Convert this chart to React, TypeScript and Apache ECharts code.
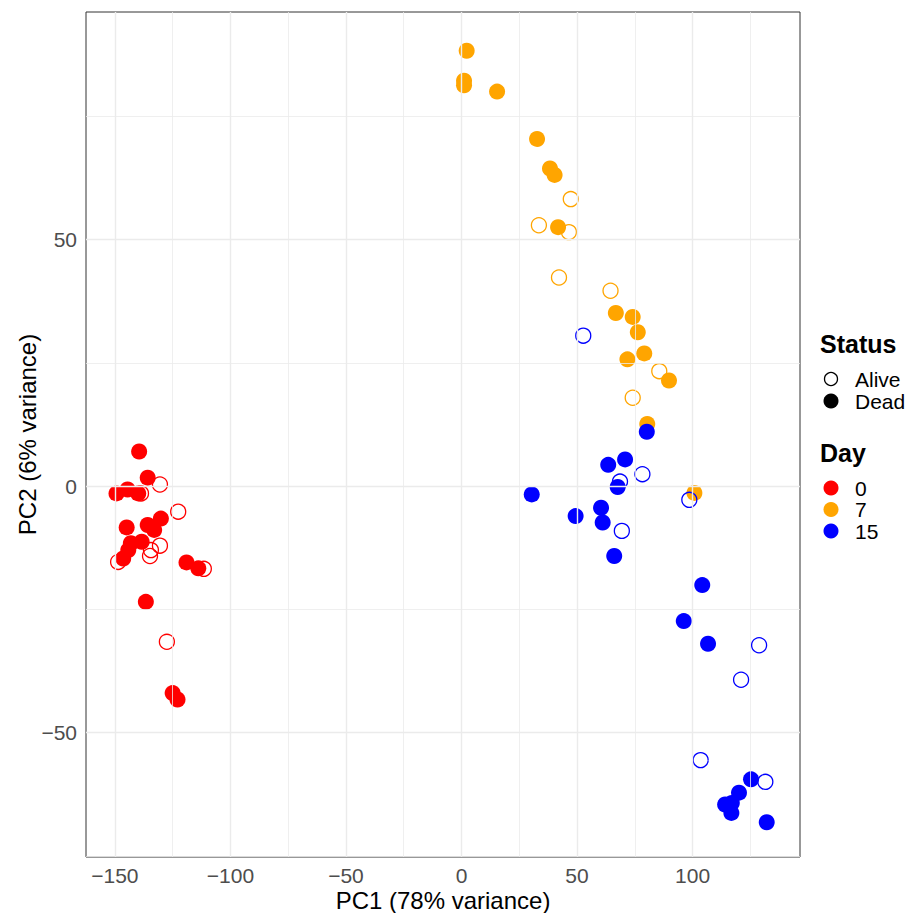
import React, { useEffect, useRef } from "react";
import * as echarts from "echarts";

// ---- data (PC1, PC2) ----
const day0Dead: number[][] = [
  [-139.5, 7.0], [-135.8, 1.7], [-149.3, -1.5], [-144.5, -0.7], [-139.9, -1.5],
  [-130.1, -6.6], [-144.9, -8.4], [-135.8, -7.9], [-133.0, -8.9], [-138.4, -11.3],
  [-143.1, -11.6], [-144.2, -13.0], [-146.4, -14.7], [-119.0, -15.5], [-113.9, -16.7],
  [-136.6, -23.5], [-125.0, -42.0], [-122.9, -43.3],
];
const day0Alive: number[][] = [
  [-130.5, 0.3], [-138.7, -1.5], [-122.6, -5.2], [-148.6, -15.4], [-130.5, -12.1],
  [-134.4, -13.0], [-134.8, -14.2], [-111.5, -16.8], [-127.5, -31.6],
];
const day7Dead: number[][] = [
  [2.25, 88.3], [1.1, 82.2], [1.1, 81.3], [15.4, 80.0], [32.7, 70.4], [38.3, 64.4],
  [40.3, 63.1], [41.8, 52.5], [66.8, 35.1], [74.1, 34.3], [76.3, 31.2], [79.1, 26.9],
  [71.8, 25.7], [89.8, 21.4], [80.4, 12.6], [100.8, -1.4],
];
const day7Alive: number[][] = [
  [47.3, 58.2], [33.5, 52.9], [46.5, 51.5], [42.2, 42.3], [64.5, 39.6], [85.6, 23.3],
  [74.1, 17.9],
];
const day15Dead: number[][] = [
  [80.2, 11.0], [63.5, 4.3], [70.8, 5.4], [67.6, -0.2], [30.4, -1.7], [49.4, -6.1],
  [60.4, -4.4], [61.1, -7.4], [66.1, -14.2], [104.2, -20.1], [96.2, -27.4],
  [106.7, -32.0], [125.3, -59.5], [120.1, -62.2], [114.1, -64.6], [117.0, -64.3],
  [116.8, -66.3], [132.1, -68.2],
];
const day15Alive: number[][] = [
  [52.7, 30.5], [78.3, 2.4], [68.6, 0.9], [69.4, -9.1], [98.6, -2.8], [128.8, -32.3],
  [121.0, -39.3], [103.5, -55.6], [131.5, -60.0],
];

const xTicks = [-150, -100, -50, 0, 50, 100];
const xMinor = [-125, -75, -25, 25, 75, 125];
const yTicks = [-50, 0, 50];
const yMinor = [-75, -25, 25, 75];

const statusLabels = ["Alive", "Dead"];
const dayLabels = ["0", "7", "15"];
const dayColors = ["#FF0000", "#FFA500", "#0000FF"];

const X_MIN = -162.5;
const X_MAX = 146.5;
const Y_MIN = -75.25;
const Y_MAX = 96.15;

const fmt = (v: number) => String(v).replace("-", "\u2212");

export default function App() {
  const ref = useRef<HTMLDivElement>(null);
  useEffect(() => {
    if (!ref.current) return;
    const chart = echarts.init(ref.current, undefined, { renderer: "svg" });
    const font = "Liberation Sans, Arial, Helvetica, sans-serif";

    const filled = (name: string, data: number[][], color: string) => ({
      name,
      type: "scatter",
      data,
      symbol: "circle",
      symbolSize: 16,
      itemStyle: { color, opacity: 1 },
      silent: true,
      z: 3,
    });
    const open = (name: string, data: number[][], color: string) => ({
      name,
      type: "scatter",
      data,
      symbol: "circle",
      symbolSize: 15,
      itemStyle: { color: "rgba(0,0,0,0)", borderColor: color, borderWidth: 1.3, opacity: 1 },
      silent: true,
      z: 3,
    });

    const gridLines = {
      type: "scatter",
      data: [],
      silent: true,
      z: 1,
      markLine: {
        silent: true,
        symbol: ["none", "none"],
        label: { show: false },
        animation: false,
        data: [
          ...xTicks.map((v) => ({ xAxis: v, lineStyle: { color: "#EBEBEB", width: 1.4, type: "solid" } })),
          ...xMinor.map((v) => ({ xAxis: v, lineStyle: { color: "#EBEBEB", width: 0.8, type: "solid" } })),
          ...yTicks.map((v) => ({ yAxis: v, lineStyle: { color: "#EBEBEB", width: 1.4, type: "solid" } })),
          ...yMinor.map((v) => ({ yAxis: v, lineStyle: { color: "#EBEBEB", width: 0.8, type: "solid" } })),
        ],
      },
    };

    const lx = 831;
    const tx = 855;
    const txtFont = `21px ${font}`;
    const ttlFont = `bold 25px ${font}`;
    const graphic: any[] = [
      { type: "text", x: 820, y: 344, style: { text: "Status", font: ttlFont, fill: "#000", verticalAlign: "middle" } },
      { type: "circle", shape: { cx: lx, cy: 379, r: 6.5 }, style: { fill: "none", stroke: "#000", lineWidth: 1.3 } },
      { type: "circle", shape: { cx: lx, cy: 401, r: 7.5 }, style: { fill: "#000" } },
      { type: "text", x: tx, y: 379, style: { text: statusLabels[0], font: txtFont, fill: "#000", verticalAlign: "middle" } },
      { type: "text", x: tx, y: 401, style: { text: statusLabels[1], font: txtFont, fill: "#000", verticalAlign: "middle" } },
      { type: "text", x: 820, y: 453, style: { text: "Day", font: ttlFont, fill: "#000", verticalAlign: "middle" } },
      ...dayLabels.flatMap((d, i) => [
        { type: "circle", shape: { cx: lx, cy: 488 + i * 21.5, r: 7.5 }, style: { fill: dayColors[i] } },
        { type: "text", x: tx, y: 488 + i * 21.5, style: { text: d, font: txtFont, fill: "#000", verticalAlign: "middle" } },
      ]),
    ];

    chart.setOption({
      animation: false,
      backgroundColor: "#FFFFFF",
      textStyle: { fontFamily: font },
      grid: {
        left: 86,
        top: 12,
        width: 714,
        height: 845,
        show: true,
        borderColor: "#333333",
        borderWidth: 1,
        backgroundColor: "#FFFFFF",
        containLabel: false,
        outerBoundsMode: "none",
      },
      xAxis: {
        type: "value",
        min: X_MIN,
        max: X_MAX,
        name: "PC1 (78% variance)",
        nameLocation: "middle",
        nameGap: 31,
        nameMoveOverlap: false,
        nameTextStyle: { fontSize: 24, color: "#000", fontFamily: font },
        axisLine: { show: false },
        axisTick: { show: true, length: 4, lineStyle: { color: "#333333" }, customValues: xTicks },
        axisLabel: { show: true, fontSize: 21, color: "#4D4D4D", margin: 8, formatter: fmt, customValues: xTicks },
        splitLine: { show: false },
      },
      yAxis: {
        type: "value",
        min: Y_MIN,
        max: Y_MAX,
        name: "PC2 (6% variance)",
        nameLocation: "middle",
        nameGap: 47,
        nameMoveOverlap: false,
        nameRotate: 90,
        nameTextStyle: { fontSize: 24, color: "#000", fontFamily: font },
        axisLine: { show: false },
        axisTick: { show: true, length: 4, lineStyle: { color: "#333333" }, customValues: yTicks },
        axisLabel: { show: true, fontSize: 21, color: "#4D4D4D", margin: 9, formatter: fmt, customValues: yTicks },
        splitLine: { show: false },
      },
      graphic,
      series: [
        gridLines,
        filled("Day 0 Dead", day0Dead, dayColors[0]),
        open("Day 0 Alive", day0Alive, dayColors[0]),
        filled("Day 7 Dead", day7Dead, dayColors[1]),
        open("Day 7 Alive", day7Alive, dayColors[1]),
        filled("Day 15 Dead", day15Dead, dayColors[2]),
        open("Day 15 Alive", day15Alive, dayColors[2]),
      ],
    });
    return () => chart.dispose();
  }, []);
  return <div ref={ref} style={{ width: 910, height: 913, position: "absolute", left: 0, top: 0 }} />;
}
